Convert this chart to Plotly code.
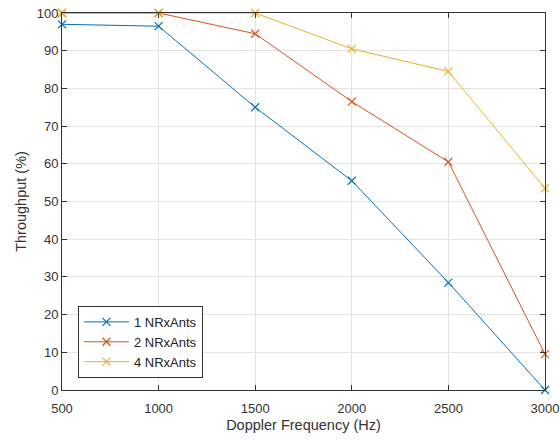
import plotly.graph_objects as go

doppler = [500, 1000, 1500, 2000, 2500, 3000]
tp_1 = [97.0, 96.5, 75.0, 55.5, 28.5, 0.0]
tp_2 = [100.0, 100.0, 94.5, 76.5, 60.5, 9.5]
tp_4 = [100.0, 100.0, 100.0, 90.5, 84.5, 53.5]
names = ["1 NRxAnts", "2 NRxAnts", "4 NRxAnts"]
colors = ["#0072BD", "#D95319", "#EDB120"]

fig = go.Figure()
for name, ys, c in zip(names, [tp_1, tp_2, tp_4], colors):
    fig.add_trace(go.Scatter(
        x=doppler, y=ys, name=name, mode="lines+markers",
        line=dict(color=c, width=1),
        marker=dict(symbol="x-thin", size=8, line=dict(color=c, width=1.2)),
        cliponaxis=False,
    ))

axis_common = dict(
    showline=True, linecolor="#333333", linewidth=1, mirror="ticks",
    ticks="inside", ticklen=5, tickcolor="#333333",
    showgrid=True, gridcolor="#e3e3e3", gridwidth=1, zeroline=False,
    automargin=False,
    tickfont=dict(family="Liberation Sans, Arial", size=13, color="#333333"),
)

fig.update_layout(
    width=560, height=440,
    margin=dict(l=62, r=15, t=13, b=50),
    paper_bgcolor="white", plot_bgcolor="white",
    font=dict(family="Liberation Sans, Arial", color="#333333"),
    xaxis=dict(range=[500, 3000], tickvals=[500, 1000, 1500, 2000, 2500, 3000],
               ticklabelstandoff=6,
               title=dict(text="Doppler Frequency (Hz)", font=dict(size=14.5), standoff=5),
               **axis_common),
    yaxis=dict(range=[0, 100], tickvals=list(range(0, 101, 10)),
               title=dict(text="Throughput (%)", font=dict(size=14.5), standoff=6),
               **axis_common),
    legend=dict(x=0.033, y=0.032, xanchor="left", yanchor="bottom",
                bgcolor="white", bordercolor="#333333", borderwidth=1,
                font=dict(size=13, color="#222222"), tracegroupgap=0,
                itemwidth=45),
    showlegend=True,
)

fig.write_html("out.html")
